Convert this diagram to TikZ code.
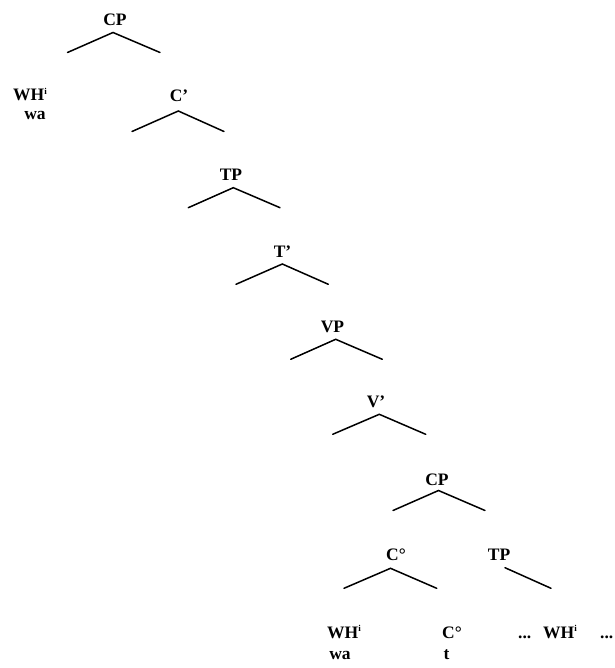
\documentclass[tikz,border=0pt]{standalone}
\usepackage{fontspec}
\setmainfont{Liberation Serif}
\begin{document}
\begin{tikzpicture}[x=1pt, y=-1pt,
  lbl/.style={font=\fontsize{17.5}{20}\selectfont\bfseries, inner sep=0pt, anchor=base},
  branch/.style={line width=1.5pt, line cap=round}]
\useasboundingbox (0,0) rectangle (614,668);

% CP (matrix clause)
\node[lbl] (cpA) at (115,25.5) {CP};
\coordinate (cpAa) at (113,32.5);
\coordinate (cpAl) at (67.5,52.5);
\coordinate (cpAr) at (160,52.5);
\draw[branch] (cpAl) -- (cpAa) -- (cpAr);

% fronted wh-phrase
\node[lbl, anchor=base west] (whA) at (13,100.5) {WH\textsuperscript{\fontsize{9}{9}\selectfont i}};
\node[lbl] (waA) at (35,120) {wa};

% C'
\node[lbl] (cbar) at (179,101.5) {C’};
\coordinate (cbara) at (178.3,111);
\coordinate (cbarl) at (132,131.5);
\coordinate (cbarr) at (224,131.5);
\draw[branch] (cbarl) -- (cbara) -- (cbarr);

% TP
\node[lbl] (tpA) at (231,180.5) {TP};
\coordinate (tpAa) at (233.3,187.7);
\coordinate (tpAl) at (188.3,207.7);
\coordinate (tpAr) at (280,207.7);
\draw[branch] (tpAl) -- (tpAa) -- (tpAr);

% T'
\node[lbl] (tbar) at (282.5,257) {T’};
\coordinate (tbara) at (282.3,264);
\coordinate (tbarl) at (236,284.3);
\coordinate (tbarr) at (328.3,284.3);
\draw[branch] (tbarl) -- (tbara) -- (tbarr);

% VP
\node[lbl] (vp) at (332.5,332.5) {VP};
\coordinate (vpa) at (335.7,339.3);
\coordinate (vpl) at (290.7,359.3);
\coordinate (vpr) at (382.3,359.3);
\draw[branch] (vpl) -- (vpa) -- (vpr);

% V'
\node[lbl] (vbar) at (376,407) {V’};
\coordinate (vbara) at (379.3,414.3);
\coordinate (vbarl) at (332.7,434.3);
\coordinate (vbarr) at (425.7,434.3);
\draw[branch] (vbarl) -- (vbara) -- (vbarr);

% embedded CP
\node[lbl] (cpB) at (437,485) {CP};
\coordinate (cpBa) at (438.5,490.5);
\coordinate (cpBl) at (393,510.5);
\coordinate (cpBr) at (485,510.5);
\draw[branch] (cpBl) -- (cpBa) -- (cpBr);

% C head
\node[lbl] (chead) at (396,560.5) {C°};
\coordinate (cheada) at (390.5,568.3);
\coordinate (cheadl) at (344,588.3);
\coordinate (cheadr) at (436.7,588.3);
\draw[branch] (cheadl) -- (cheada) -- (cheadr);

% embedded TP
\node[lbl] (tpB) at (499,560.5) {TP};
\coordinate (tpBa) at (505,567.7);
\coordinate (tpBr) at (551,588.3);
\draw[branch] (tpBa) -- (tpBr);

% terminals
\node[lbl, anchor=base west] (whB) at (327,638) {WH\textsuperscript{\fontsize{9}{9}\selectfont i}};
\node[lbl] (waB) at (340,659) {wa};
\node[lbl] (cterm) at (452,638) {C°};
\node[lbl] (trace) at (446.5,659) {t};
\node[lbl, anchor=base west] (dotsL) at (518,638) {...};
\node[lbl, anchor=base west] (whC) at (543,638) {WH\textsuperscript{\fontsize{9}{9}\selectfont i}};
\node[lbl, anchor=base west] (dotsR) at (600,638) {...};
\end{tikzpicture}
\end{document}
